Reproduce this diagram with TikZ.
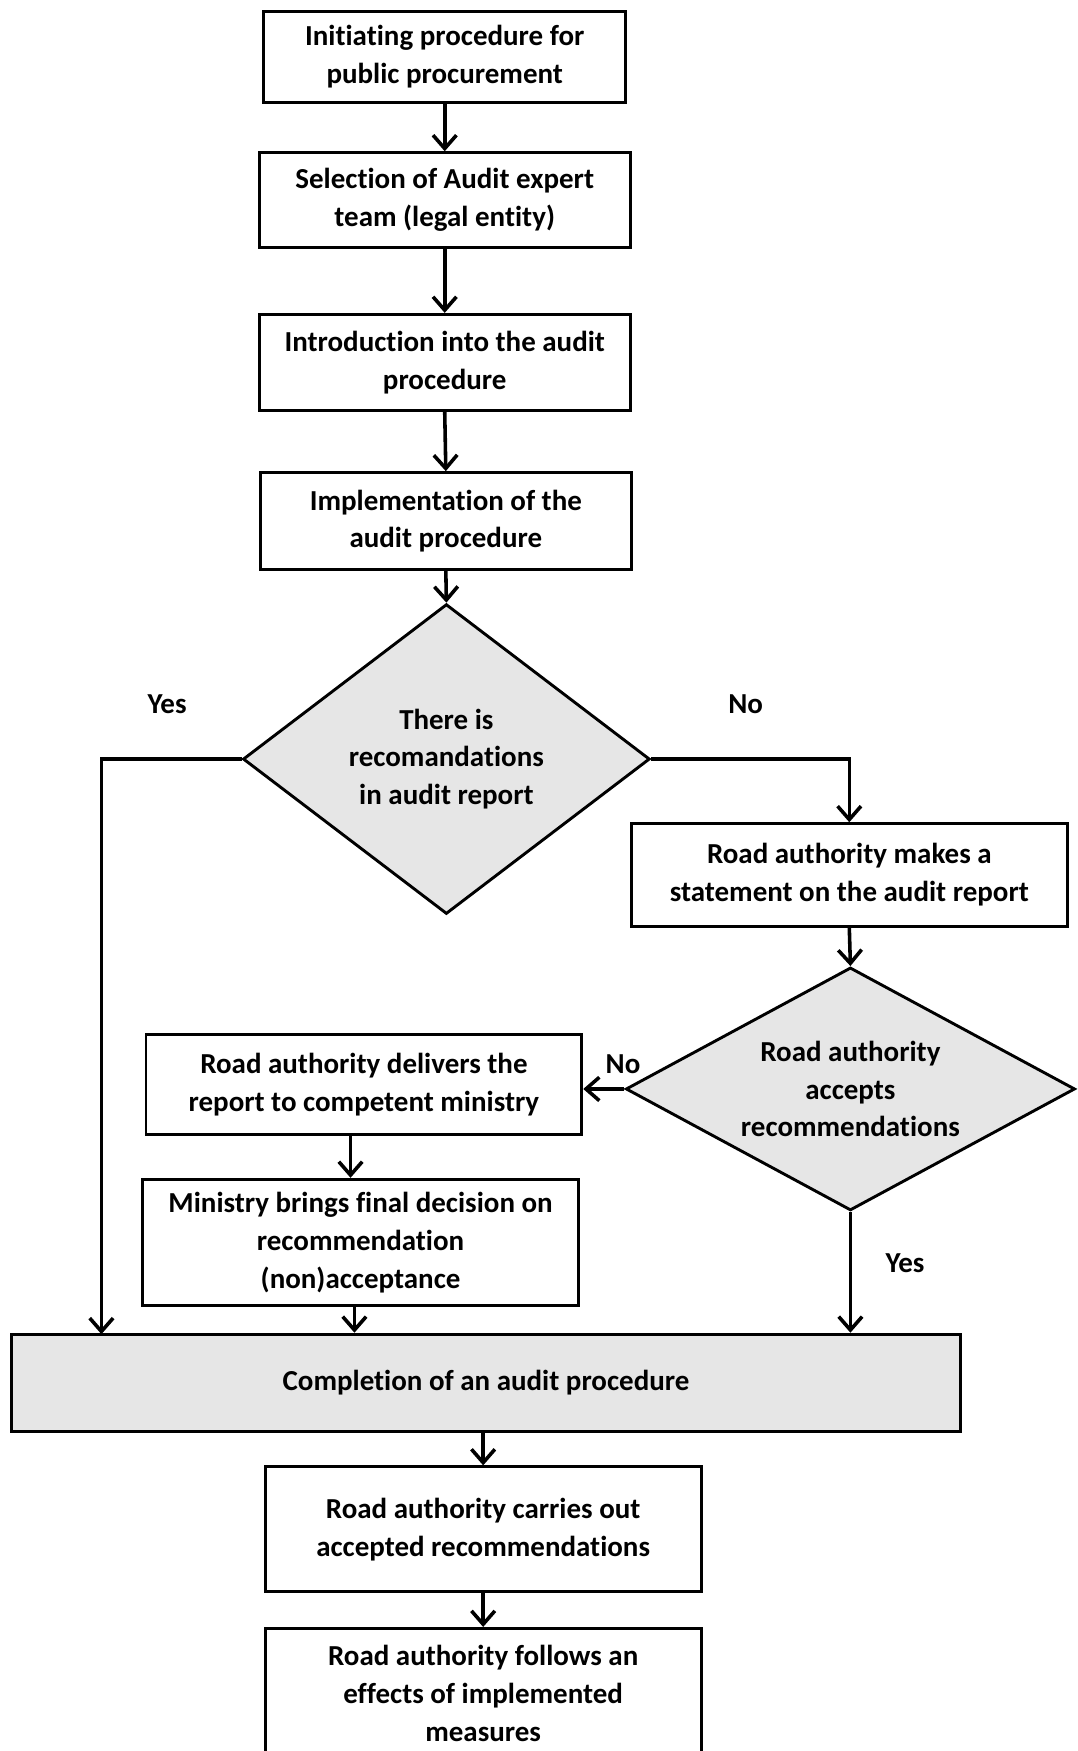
\documentclass[tikz,border=0pt]{standalone}
\usepackage{fontspec}
\setmainfont{Carlito}[Ligatures={NoCommon}]
\usetikzlibrary{arrows.meta,shapes.geometric}
\definecolor{boxgray}{RGB}{230,230,230}
\tikzset{
  box/.style={draw=black, line width=1.3pt, fill=white, rectangle, align=center, inner sep=0pt,
    font=\fontsize{13}{17}\selectfont\bfseries},
  graybox/.style={box, fill=boxgray},
  decision/.style={draw=black, line width=1.3pt, fill=boxgray, diamond, align=center, inner sep=0pt,
    font=\fontsize{13}{17}\selectfont\bfseries},
  lbl/.style={font=\fontsize{13}{17}\selectfont\bfseries, inner sep=0pt},
  arr/.style={line width=1.6pt, -{Straight Barb[length=6pt,width=10.5pt,line width=1.6pt]}}
}
\begin{document}
\begin{tikzpicture}[x=0.5pt,y=-0.5pt]
\clip (0,0) rectangle (967,1571);
\fill[white] (0,0) rectangle (967,1571);

\node[box, minimum width=325*0.5pt, minimum height=82*0.5pt] (b1) at (399,51)
  {Initiating procedure for\\public procurement};
\node[box, minimum width=333*0.5pt, minimum height=85*0.5pt] (b2) at (399,179.5)
  {Selection of Audit expert\\team (legal entity)};
\node[box, minimum width=333*0.5pt, minimum height=86*0.5pt] (b3) at (399,325)
  {Introduction into the audit\\procedure};
\node[box, minimum width=333*0.5pt, minimum height=87*0.5pt] (b4) at (400,467.5)
  {Implementation of the\\audit procedure};
\node[decision, aspect=1.31, minimum width=365*0.5pt, minimum height=278*0.5pt] (d1) at (400.5,681)
  {There is\\recomandations\\in audit report};
\node[box, minimum width=391*0.5pt, minimum height=92*0.5pt] (b5) at (762,785)
  {Road authority makes a\\statement on the audit report};
\node[decision, aspect=1.85, minimum width=403*0.5pt, minimum height=218*0.5pt] (d2) at (763,977)
  {Road authority\\accepts\\recommendations};
\node[box, minimum width=391*0.5pt, minimum height=90*0.5pt] (b6) at (326.5,973)
  {Road authority delivers the\\report to competent ministry};
\node[box, minimum width=391*0.5pt, minimum height=113*0.5pt] (b7) at (323.5,1114.5)
  {Ministry brings final decision on\\recommendation\\(non)acceptance};
\node[graybox, minimum width=852*0.5pt, minimum height=87*0.5pt] (comp) at (436,1240.5)
  {Completion of an audit procedure};
\node[box, minimum width=391*0.5pt, minimum height=112*0.5pt] (b8) at (433.5,1372)
  {Road authority carries out\\accepted recommendations};
\node[box, minimum width=391*0.5pt, minimum height=116*0.5pt] (b9) at (433.5,1519)
  {Road authority follows an\\effects of implemented\\measures};

\node[lbl] (yes1) at (150,632) {Yes};
\node[lbl] (no1) at (669,632) {No};
\node[lbl] (no2) at (559,955) {No};
\node[lbl] (yes2) at (812,1133) {Yes};

\coordinate (cy) at (91,1197);

\draw[arr] (b1.south) -- (b2.north);
\draw[arr] (b2.south) -- (b3.north);
\draw[arr] (b3.south) -- (b4.north);
\draw[arr] (b4.south) -- (d1.north);
\draw[arr] (d1.west) -| (cy);
\draw[arr] (d1.east) -| (b5.north);
\draw[arr] (b5.south) -- (d2.north);
\draw[arr] (d2.west) -- (d2.west -| b6.east);
\draw[arr] ([xshift=-6pt]b6.south) -- ([xshift=-6pt]b6.south |- b7.north);
\draw[arr] ([xshift=-2.75pt]b7.south) -- ([xshift=-2.75pt]b7.south |- comp.north);
\draw[arr] (d2.south) -- (d2.south |- comp.north);
\draw[arr] (b8.north |- comp.south) -- (b8.north);
\draw[arr] (b8.south) -- (b9.north);
\end{tikzpicture}
\end{document}
